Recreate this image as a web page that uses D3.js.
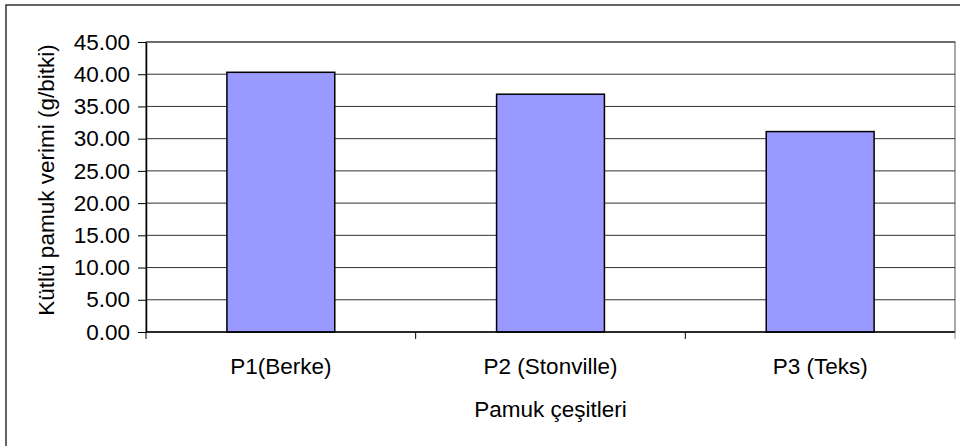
<!DOCTYPE html>
<html>
<head>
<meta charset="utf-8">
<script src="https://cdn.jsdelivr.net/npm/d3@7"></script>
<style>
  body { margin: 0; background: #fff; }
  text { font-family: "Liberation Sans", Arial, sans-serif; fill: #000; }
</style>
</head>
<body>
<div id="chart-container"></div>
<script>
const categories = ["P1(Berke)", "P2 (Stonville)", "P3 (Teks)"];
const yieldValues = [40.3, 36.9, 31.1];
const yTicks = [0, 5, 10, 15, 20, 25, 30, 35, 40, 45];
const yTitle = "Kütlü pamuk verimi (g/bitki)";
const xTitle = "Pamuk çeşitleri";

((() => {
  const width = 960;
  const height = 446;
  const marginTop = 42;
  const marginRight = 5;
  const marginBottom = 114;
  const marginLeft = 146;
  const fontSize = 22.5;

  const data = categories.map((c, i) => ({name: c, value: yieldValues[i]}));

  // category bands (for tick positions at the boundaries)
  const xBand = d3.scaleBand()
    .domain(categories)
    .range([marginLeft, width - marginRight]);

  // bar positions
  const x = d3.scaleBand()
    .domain(categories)
    .range([marginLeft, width - marginRight])
    .paddingInner(0.6)
    .paddingOuter(0.3);

  const y = d3.scaleLinear()
    .domain([0, 45])
    .range([height - marginBottom, marginTop]);

  const svg = d3.create("svg")
    .attr("width", width)
    .attr("height", height)
    .attr("viewBox", [0, 0, width, height]);

  // outer chart border (runs past the frame on right and bottom)
  svg.append("rect")
    .attr("x", 6)
    .attr("y", 5)
    .attr("width", width + 10)
    .attr("height", height + 10)
    .attr("fill", "#fff")
    .attr("stroke", "#333")
    .attr("stroke-width", 1.5);

  // plot area border
  svg.append("rect")
    .attr("x", marginLeft)
    .attr("y", marginTop)
    .attr("width", width - marginRight - marginLeft)
    .attr("height", y(0) - marginTop)
    .attr("fill", "none")
    .attr("stroke", "#8c8c8c")
    .attr("stroke-width", 1.5);

  // gridlines
  svg.append("g")
    .selectAll("line")
    .data(yTicks.filter(d => d > 0))
    .join("line")
    .attr("x1", marginLeft)
    .attr("x2", width - marginRight)
    .attr("y1", d => y(d))
    .attr("y2", d => y(d))
    .attr("stroke", "#333")
    .attr("stroke-width", 1);

  // bars
  svg.append("g")
    .attr("fill", "#9999ff")
    .attr("stroke", "#000")
    .attr("stroke-width", 1.5)
    .selectAll("rect")
    .data(data)
    .join("rect")
    .attr("x", d => x(d.name))
    .attr("y", d => y(d.value))
    .attr("width", x.bandwidth())
    .attr("height", d => y(0) - y(d.value));

  //y-axis
  const yAxis = svg.append("g")
    .attr("transform", `translate(${marginLeft},0)`)
    .call(d3.axisLeft(y).tickValues(yTicks).tickFormat(d3.format(".2f")).tickSize(8).tickPadding(8).tickSizeOuter(0));
  yAxis.select(".domain").attr("stroke", "#000").attr("stroke-width", 1.5);
  yAxis.selectAll(".tick line").attr("stroke", "#000");
  yAxis.selectAll("text")
    .attr("fill", "#000")
    .style("font-size", fontSize + "px")
    .style("font-family", "Liberation Sans, Arial, sans-serif");

  //x-axis: ticks at category boundaries, labels at centers
  const xBase = y(0);
  const bounds = categories.map(c => xBand(c)).concat([width - marginRight]);
  svg.append("line")
    .attr("x1", marginLeft)
    .attr("x2", width - marginRight)
    .attr("y1", xBase)
    .attr("y2", xBase)
    .attr("stroke", "#000")
    .attr("stroke-width", 1.5);
  svg.append("g")
    .selectAll("line")
    .data(bounds)
    .join("line")
    .attr("x1", d => d)
    .attr("x2", d => d)
    .attr("y1", xBase)
    .attr("y2", xBase + 7)
    .attr("stroke", (d, i) => i === bounds.length - 1 ? "#8c8c8c" : "#000");

  svg.append("g")
    .selectAll("text")
    .data(categories)
    .join("text")
    .attr("x", d => xBand(d) + xBand.bandwidth() / 2)
    .attr("y", 374)
    .attr("text-anchor", "middle")
    .style("font-size", fontSize + "px")
    .text(d => d);

  // axis titles
  svg.append("text")
    .attr("x", (marginLeft + width - marginRight) / 2)
    .attr("y", 417)
    .attr("text-anchor", "middle")
    .style("font-size", fontSize + "px")
    .text(xTitle);

  svg.append("text")
    .attr("transform", `translate(54,${(marginTop + xBase) / 2 - 7}) rotate(-90)`)
    .attr("text-anchor", "middle")
    .style("font-size", fontSize + "px")
    .text(yTitle);

  d3.select("#chart-container").append(() => svg.node());
})());
</script>
</body>
</html>
